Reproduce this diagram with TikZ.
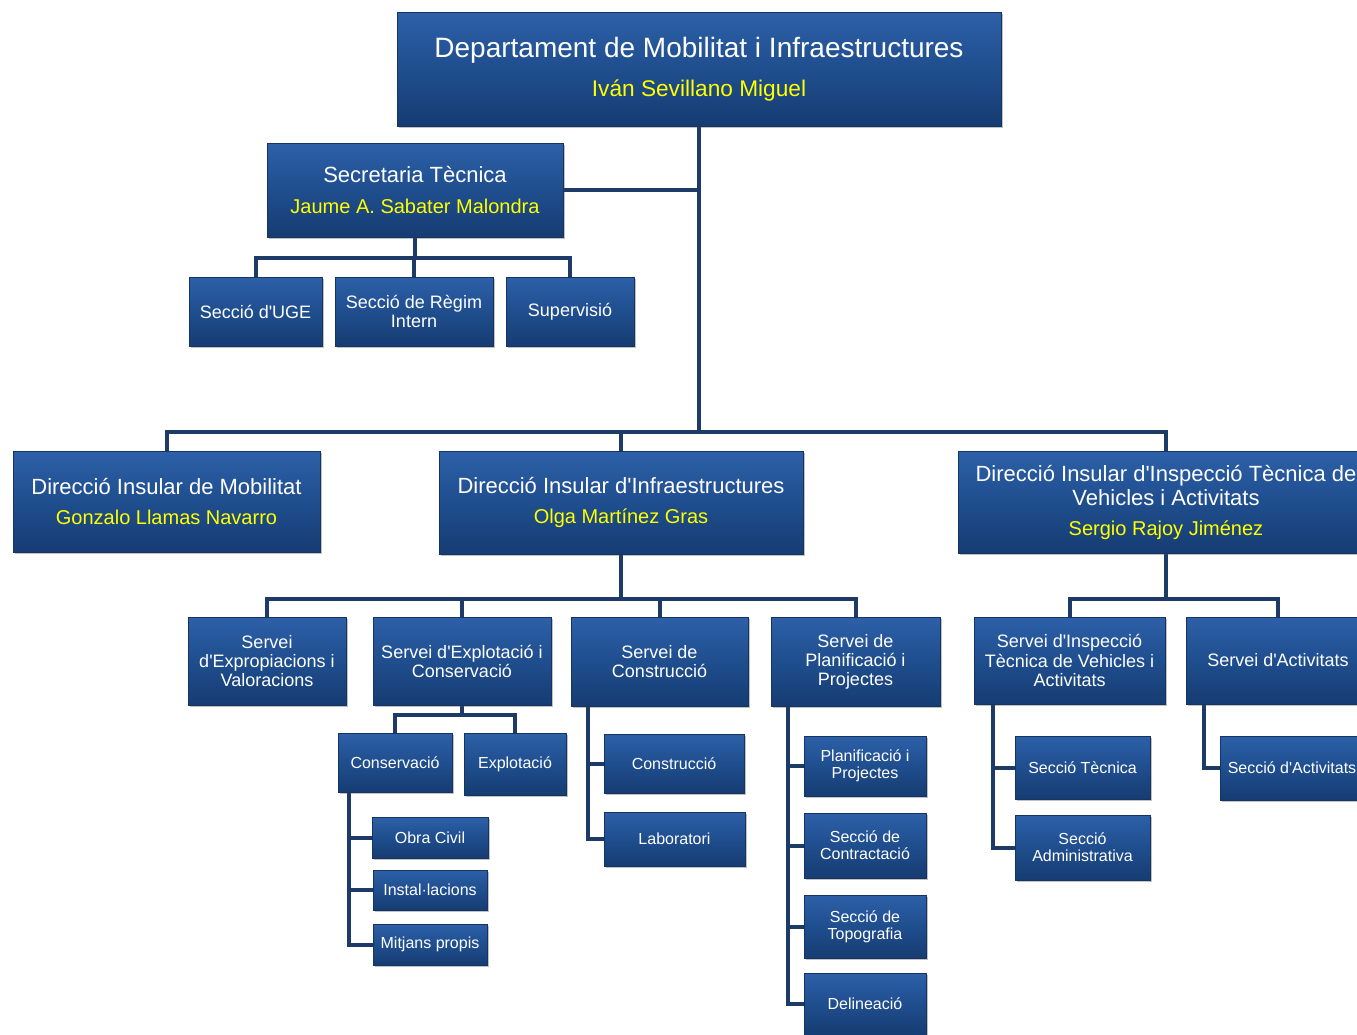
\documentclass[tikz,border=0pt]{standalone}
\usepackage{fontspec}
\setmainfont{Liberation Sans}[Ligatures=TeXOff]
\usetikzlibrary{shadows,backgrounds}
\definecolor{boxtop}{HTML}{2D60A8}
\definecolor{boxmid}{HTML}{1F4E8E}
\definecolor{boxbot}{HTML}{163C72}
\definecolor{boxline}{HTML}{143461}
\definecolor{connc}{HTML}{1E3A66}
\definecolor{namey}{HTML}{FFFF00}
\tikzset{
  obox/.style={draw=boxline, line width=0.6pt, top color=boxtop, bottom color=boxbot, middle color=boxmid,
    text=white, align=center, inner sep=0pt,
    drop shadow={shadow xshift=1.8pt, shadow yshift=-1.8pt, opacity=0.35, fill=black!70}},
  conn/.style={draw=connc, line width=3pt},
  fA/.style={font=\fontsize{21}{24}\selectfont},
  fB/.style={font=\fontsize{16.5}{18}\selectfont},
  fC/.style={font=\fontsize{13.5}{14.3}\selectfont},
  fD/.style={font=\fontsize{12}{12.8}\selectfont},
}
\newcommand{\ob}[7]{\node[obox,#2,minimum width={(#5-#3)*0.75pt},minimum height={(#6-#4)*0.75pt}] (#1) at ({(#3+#5)/2},{(#4+#6)/2}) {#7};}
\newcommand{\nm}[1]{{\color{namey}#1}}
\begin{document}
\begin{tikzpicture}[x=0.75pt,y=-0.75pt]
\useasboundingbox (0,0) rectangle (1357,1035);
\clip (0,0) rectangle (1357,1035);
% level 0
\ob{top}{fA}{397}{12}{1001}{126}{Departament de Mobilitat i Infraestructures\\[5.5pt]{\fontsize{17}{20}\selectfont\nm{Iván Sevillano Miguel}}}
\ob{sec}{fB}{267}{143}{563}{237}{Secretaria Tècnica\\[5pt]{\fontsize{15}{18}\selectfont\nm{Jaume A. Sabater Malondra}}}
\ob{uge}{fC}{189}{277}{322}{346}{Secció d'UGE}
\ob{rei}{fC}{335}{277}{493}{346}{Secció de Règim\\Intern}
\ob{sup}{fC}{506}{277}{634}{346}{Supervisió}
% direccions
\ob{mob}{fB}{13}{451}{320}{552}{Direcció Insular de Mobilitat\\[4.5pt]{\fontsize{15}{18}\selectfont\nm{Gonzalo Llamas Navarro}}}
\ob{infra}{fB}{439}{451}{803}{554}{Direcció Insular d'Infraestructures\\[4.5pt]{\fontsize{15}{18}\selectfont\nm{Olga Martínez Gras}}}
\ob{insp}{fB}{958}{451}{1374}{553}{Direcció Insular d'Inspecció Tècnica de\\Vehicles i Activitats\\[4.5pt]{\fontsize{15}{18}\selectfont\nm{Sergio Rajoy Jiménez}}}
% serveis
\ob{sexp}{fC}{188}{617}{346}{705}{Servei\\d'Expropiacions i\\Valoracions}
\ob{sec2}{fC}{373}{617}{551}{705}{Servei d'Explotació i\\Conservació}
\ob{scon}{fC}{571}{617}{748}{706}{Servei de\\Construcció}
\ob{splan}{fC}{771}{617}{940}{706}{Servei de\\Planificació i\\Projectes}
\ob{sit}{fC}{974}{617}{1165}{704}{Servei d'Inspecció\\Tècnica de Vehicles i\\Activitats}
\ob{sact}{fC}{1186}{617}{1370}{704}{Servei d'Activitats}
% seccions
\ob{cons}{fD}{338}{733}{452}{792}{Conservació}
\ob{explo}{fD}{464}{733}{566}{795}{Explotació}
\ob{obra}{fD}{372}{817}{488}{858}{Obra Civil}
\ob{inst}{fD}{373}{870}{487}{910}{Instal·lacions}
\ob{mit}{fD}{373}{924}{487}{965}{Mitjans propis}
\ob{constr}{fD}{604}{734}{744}{793}{Construcció}
\ob{lab}{fD}{604}{812}{745}{866}{Laboratori}
\ob{plan}{fD}{804}{736}{926}{796}{Planificació i\\Projectes}
\ob{contr}{fD}{804}{813}{926}{878}{Secció de\\Contractació}
\ob{topo}{fD}{804}{895}{926}{958}{Secció de\\Topografia}
\ob{deli}{fD}{804}{973}{926}{1035}{Delineació}
\ob{stec}{fD}{1015}{736}{1150}{799}{Secció Tècnica}
\ob{sadm}{fD}{1015}{815}{1150}{880}{Secció\\Administrativa}
\ob{sacts}{fD}{1220}{736}{1364}{800}{Secció d'Activitats}
% connectors
\coordinate (b0) at (0,258);
\coordinate (b1) at (0,432);
\coordinate (b2) at (0,599);
\coordinate (b3) at (0,715);
\coordinate (v1) at (349,0);
\coordinate (v2) at (588,0);
\coordinate (v3) at (788,0);
\coordinate (v4) at (993,0);
\coordinate (v5) at (1204,0);
\begin{scope}[on background layer]
\draw[conn] (top.south) -- (top.south |- b1);
\draw[conn] (sec.east) -- (sec.east -| top.south);
\draw[conn] (sec.south) -- (sec.south |- b0);
\draw[conn] (uge.north) |- (sup.north |- b0) -- (sup.north);
\draw[conn] (rei.north) -- (rei.north |- b0);
\draw[conn] (mob.north) |- (insp.north |- b1) -- (insp.north);
\draw[conn] (infra.north) -- (infra.north |- b1);
\draw[conn] (infra.south) -- (infra.south |- b2);
\draw[conn] (sexp.north) |- (splan.north |- b2) -- (splan.north);
\draw[conn] (sec2.north) -- (sec2.north |- b2);
\draw[conn] (scon.north) -- (scon.north |- b2);
\draw[conn] (insp.south) -- (insp.south |- b2);
\draw[conn] (sit.north) |- (sact.north |- b2) -- (sact.north);
\draw[conn] (sec2.south) -- (sec2.south |- b3);
\draw[conn] (cons.north) |- (explo.north |- b3) -- (explo.north);
\draw[conn] (cons.south -| v1) |- (mit.west);
\draw[conn] (obra.west) -- (obra.west -| v1);
\draw[conn] (inst.west) -- (inst.west -| v1);
\draw[conn] (scon.south -| v2) |- (lab.west);
\draw[conn] (constr.west) -- (constr.west -| v2);
\draw[conn] (splan.south -| v3) |- (deli.west);
\draw[conn] (plan.west) -- (plan.west -| v3);
\draw[conn] (contr.west) -- (contr.west -| v3);
\draw[conn] (topo.west) -- (topo.west -| v3);
\draw[conn] (sit.south -| v4) |- (sadm.west);
\draw[conn] (stec.west) -- (stec.west -| v4);
\draw[conn] (sact.south -| v5) |- (sacts.west);
\end{scope}
\end{tikzpicture}
\end{document}
